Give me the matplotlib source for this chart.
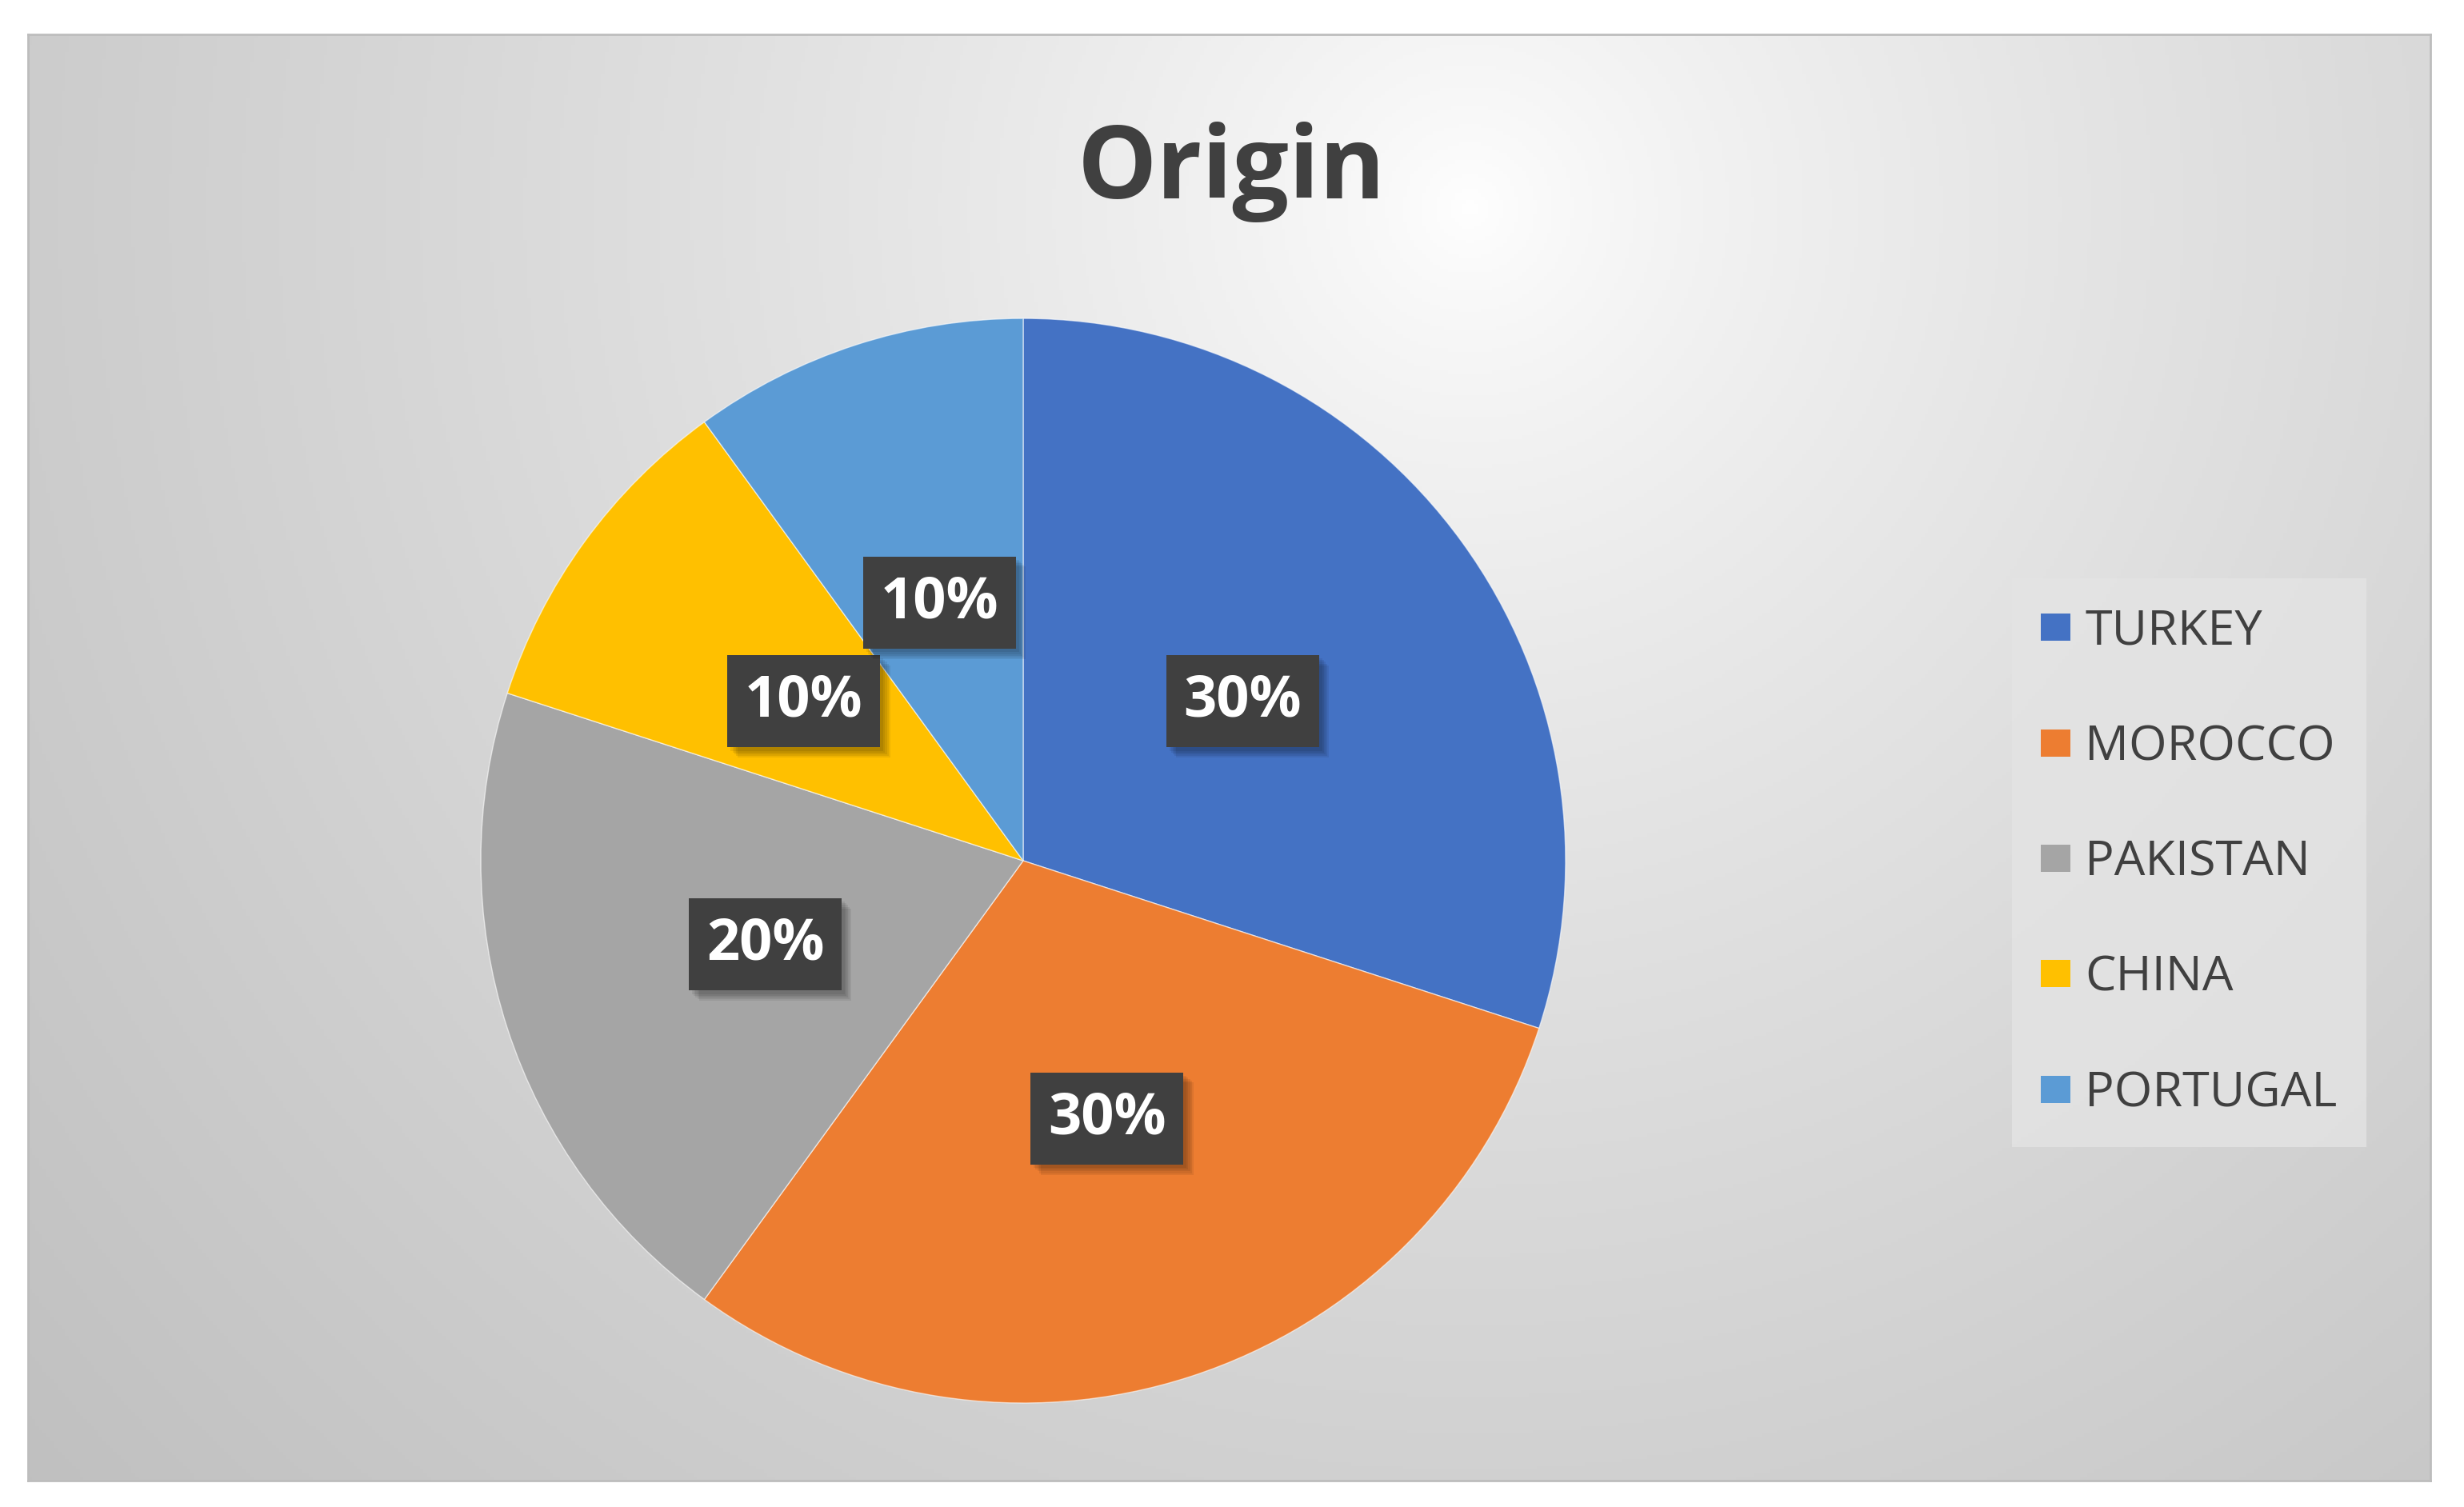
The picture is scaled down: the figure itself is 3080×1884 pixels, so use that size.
import numpy as np
import matplotlib
matplotlib.use("Agg")
import matplotlib.pyplot as plt
import matplotlib.patches as mpatches
import matplotlib.patheffects as pe

# data
countries = ["TURKEY", "MOROCCO", "PAKISTAN", "CHINA", "PORTUGAL"]
shares = [30, 30, 20, 10, 10]
colors = ["#4472C4", "#ED7D31", "#A5A5A5", "#FFC000", "#5B9BD5"]
title = "Origin"

plt.rcParams["font.family"] = ["Open Sans", "DejaVu Sans"]

fig = plt.figure(figsize=(30.8, 18.84), dpi=100)
fig.patch.set_facecolor("white")

# chart area with radial gradient background
bg = fig.add_axes([0.01136, 0.01752, 0.97504, 0.95968])
ny, nx = 400, 650
xx, yy = np.meshgrid(np.linspace(0, 1, nx), np.linspace(0, 1, ny))
d = np.sqrt(((xx - 0.6) * 1.66) ** 2 + (yy - 0.12) ** 2)
t = np.clip(d / 1.35, 0, 1) ** 0.75
g = 1.0 - (1.0 - 0.75) * t
img = np.dstack([g, g, g])
bg.imshow(img, extent=[0, 1, 0, 1], origin="upper", aspect="auto")
bg.set_xlim(0, 1)
bg.set_ylim(0, 1)
bg.set_xticks([])
bg.set_yticks([])
for s in bg.spines.values():
    s.set_color("#bdbdbd")
    s.set_linewidth(2)

# pie
ax = fig.add_axes([0.1951, 0.069, 0.4403, 0.7197])
ax.set_facecolor("none")
wedges, texts, autotexts = ax.pie(
    shares, colors=colors, startangle=90, counterclock=False,
    autopct=lambda p: f"{p:.0f}%", pctdistance=0.5, radius=1,
    wedgeprops=dict(edgecolor=(1, 1, 1, 0.6), linewidth=1),
    textprops=dict(color="white", fontsize=52, fontweight="bold"))
ax.set_xlim(-1, 1)
ax.set_ylim(-1, 1)
ax.set_aspect("equal")
ax.axis("off")

# soft shadow behind the label boxes
shadow = [pe.SimplePatchShadow(offset=(k, -k), shadow_rgbFace="black", alpha=0.07)
          for k in (9, 7.5, 6, 4.5, 3)]
for at in autotexts:
    at.set_bbox(dict(boxstyle="square,pad=0.3", facecolor="#404040", edgecolor="none"))
    at.get_bbox_patch().set_path_effects(shadow + [pe.Normal()])

# title
fig.text(0.4997, 0.886, title, ha="center", va="center",
         fontsize=90, fontweight="bold", color="#404040")

# legend
handles = [mpatches.Patch(facecolor=c, edgecolor="none") for c in colors]
leg = fig.legend(handles, countries, loc="center left",
                 bbox_to_anchor=(0.8165, 0.4275), bbox_transform=fig.transFigure,
                 fontsize=44, frameon=True, fancybox=False,
                 handlelength=0.6, handleheight=0.48, handletextpad=0.3,
                 labelspacing=1.38, borderpad=0.6, borderaxespad=0)
leg.get_frame().set_facecolor("#e4e4e4")
leg.get_frame().set_edgecolor("none")
for txt in leg.get_texts():
    txt.set_color("#404040")

fig.savefig("out.png", dpi=100, facecolor="white")
